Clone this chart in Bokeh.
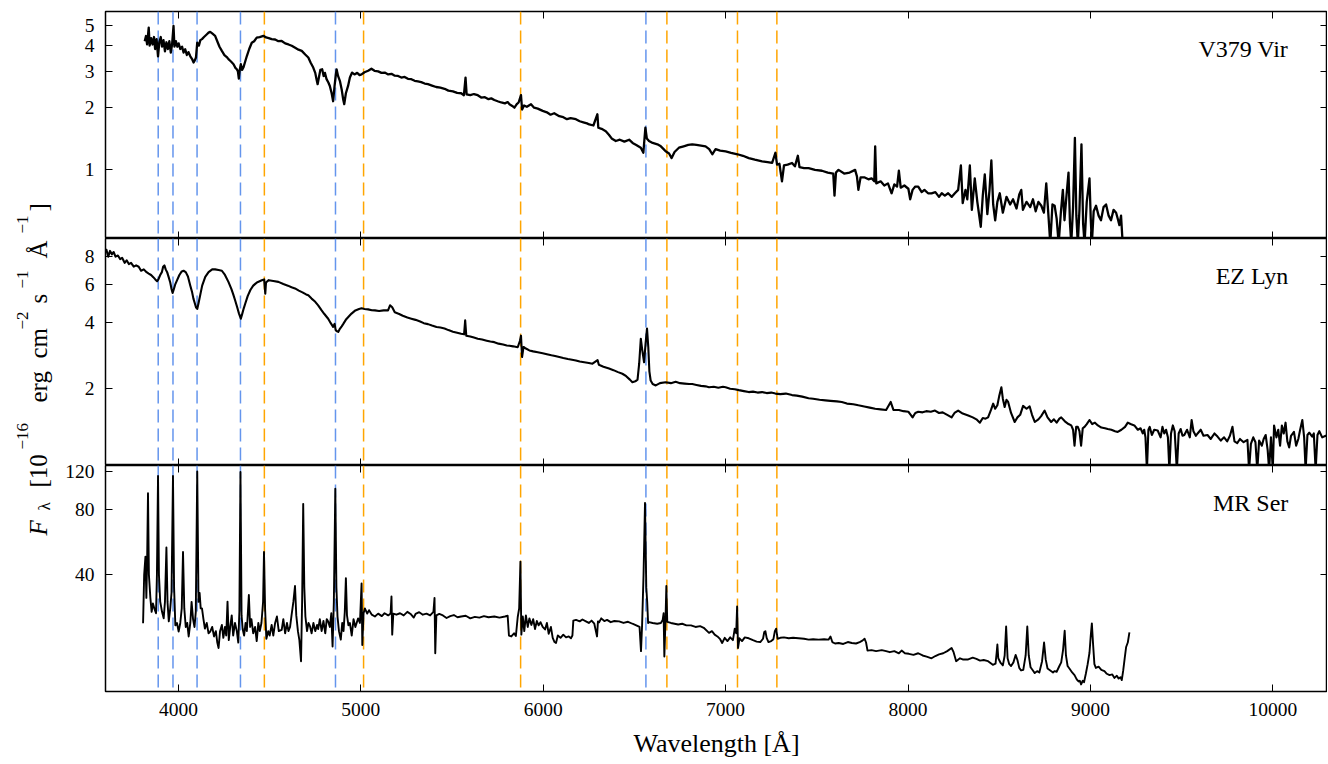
import numpy as np
from bokeh.plotting import figure
from bokeh.layouts import row, column
from bokeh.models import (Range1d, LinearAxis, LogAxis, FixedTicker, Span, Label,
                          CustomJSTickFormatter, PrintfTickFormatter)
from bokeh.embed import file_html
from bokeh.resources import INLINE

# ---------------- data ----------------
v379_wl = [
    3815, 3822, 3828, 3837, 3842, 3850, 3858, 3866, 3872, 3880,
    3888, 3895, 3903, 3910, 3918, 3926, 3934, 3942, 3950, 3958,
    3965, 3973, 3978, 3986, 3994, 4001, 4010, 4020, 4028, 4037,
    4046, 4055, 4065, 4074, 4083, 4090, 4096, 4103, 4112, 4120,
    4129, 4140, 4156, 4165, 4174, 4185, 4201, 4215, 4225, 4238,
    4252, 4265, 4274, 4288, 4302, 4312, 4320, 4326, 4331, 4336,
    4342, 4349, 4356, 4366, 4375, 4388, 4402, 4415, 4429, 4445,
    4466, 4480, 4495, 4511, 4530, 4548, 4566, 4585, 4603, 4621,
    4640, 4658, 4676, 4695, 4712, 4725, 4739, 4750, 4757, 4763,
    4770, 4778, 4788, 4796, 4803, 4812, 4822, 4830, 4840, 4848,
    4856, 4863, 4867, 4875, 4885, 4895, 4903, 4909, 4918, 4930,
    4940, 4952, 4965, 4980, 4993, 5004, 5020, 5040, 5058, 5075,
    5095, 5113, 5131, 5150, 5168, 5186, 5204, 5222, 5240, 5258,
    5277, 5295, 5313, 5331, 5350, 5368, 5390, 5413, 5436, 5459,
    5480, 5505, 5528, 5550, 5565, 5574, 5580, 5600, 5620, 5641,
    5660, 5680, 5700, 5715, 5732, 5750, 5770, 5790, 5805, 5815,
    5830, 5842, 5855, 5865, 5878, 5884, 5895, 5910, 5933, 5950,
    5970, 5997, 6020, 6040, 6060, 6088, 6110, 6130, 6150, 6179,
    6200, 6220, 6240, 6252, 6275, 6297, 6302, 6320, 6343, 6360,
    6375, 6398, 6420, 6445, 6471, 6490, 6510, 6535, 6549, 6560,
    6568, 6580, 6600, 6626, 6645, 6660, 6671, 6690, 6704, 6720,
    6744, 6770, 6795, 6817, 6840, 6865, 6890, 6910, 6927, 6945,
    6970, 7000, 7030, 7065, 7095, 7127, 7160, 7200, 7230, 7255,
    7273, 7282, 7295, 7309, 7320, 7340, 7364, 7380, 7396, 7405,
    7430, 7455, 7490, 7528, 7560, 7590, 7597, 7605, 7619, 7650,
    7680, 7710, 7720, 7728, 7740, 7760, 7783, 7800, 7815, 7820,
    7826, 7850, 7870, 7890, 7910, 7925, 7940, 7950, 7960, 7980,
    8002, 8012, 8025, 8040, 8056, 8075, 8090, 8110, 8129, 8150,
    8170, 8185, 8202, 8220, 8240, 8257, 8275, 8290, 8300, 8315,
    8325, 8339, 8350, 8366, 8380, 8399, 8410, 8421, 8435, 8447,
    8457, 8467, 8478, 8490, 8503, 8520, 8540, 8560, 8576, 8595,
    8610, 8621, 8630, 8650, 8670, 8685, 8700, 8715, 8731, 8745,
    8758, 8770, 8780, 8792, 8804, 8815, 8826, 8838, 8849, 8858,
    8866, 8880, 8888, 8895, 8905, 8915, 8923, 8931, 8940, 8951,
    8960, 8968, 8980, 8995, 9002, 9008, 9018, 9031, 9045, 9058,
    9072, 9086, 9100, 9113, 9127, 9141, 9150, 9159, 9168, 9177,
]
v379_flux = [
    4.20, 4.45, 4.05, 4.89, 4.00, 4.35, 4.05, 4.40, 3.85, 4.30,
    3.55, 4.15, 4.40, 3.95, 4.25, 3.75, 4.15, 3.85, 4.20, 3.70,
    4.05, 4.98, 3.95, 4.20, 3.95, 4.10, 3.85, 3.95, 3.70, 3.84,
    3.60, 3.72, 3.55, 3.45, 3.31, 3.40, 3.50, 4.13, 4.00, 4.25,
    4.30, 4.40, 4.54, 4.62, 4.66, 4.58, 4.46, 4.15, 3.95, 3.77,
    3.60, 3.52, 3.44, 3.35, 3.25, 3.12, 3.07, 3.00, 2.77, 3.05,
    3.25, 3.05, 3.13, 3.35, 3.56, 3.85, 4.13, 4.20, 4.37, 4.40,
    4.46, 4.38, 4.35, 4.30, 4.28, 4.20, 4.21, 4.10, 4.05, 3.99,
    3.90, 3.82, 3.77, 3.62, 3.50, 3.30, 3.13, 2.95, 2.75, 2.60,
    2.80, 3.05, 3.07, 2.85, 2.95, 2.75, 2.65, 2.55, 2.35, 2.15,
    2.55, 2.90, 3.07, 2.85, 2.70, 2.45, 2.20, 2.08, 2.35, 2.55,
    2.80, 2.96, 2.90, 2.95, 2.88, 2.90, 2.97, 3.02, 3.09, 3.02,
    3.00, 2.95, 2.96, 2.90, 2.92, 2.86, 2.85, 2.80, 2.82, 2.76,
    2.75, 2.70, 2.68, 2.66, 2.62, 2.60, 2.56, 2.52, 2.50, 2.47,
    2.42, 2.40, 2.36, 2.35, 2.30, 2.80, 2.32, 2.30, 2.33, 2.30,
    2.24, 2.25, 2.20, 2.22, 2.18, 2.15, 2.12, 2.10, 2.13, 2.08,
    2.04, 2.00, 2.08, 2.12, 2.30, 1.96, 2.05, 2.02, 2.08, 2.00,
    1.98, 1.93, 1.90, 1.85, 1.88, 1.82, 1.80, 1.76, 1.78, 1.76,
    1.72, 1.70, 1.68, 1.66, 1.64, 1.86, 1.60, 1.58, 1.54, 1.48,
    1.42, 1.38, 1.40, 1.37, 1.40, 1.35, 1.32, 1.28, 1.21, 1.60,
    1.42, 1.38, 1.35, 1.33, 1.30, 1.26, 1.23, 1.20, 1.14, 1.22,
    1.28, 1.30, 1.32, 1.33, 1.32, 1.31, 1.30, 1.26, 1.19, 1.26,
    1.24, 1.23, 1.21, 1.19, 1.17, 1.14, 1.12, 1.10, 1.09, 1.08,
    1.21, 1.06, 1.07, 0.88, 1.05, 1.06, 1.08, 1.04, 1.17, 1.03,
    1.02, 1.02, 1.00, 0.99, 0.97, 0.96, 0.75, 0.97, 1.00, 0.96,
    0.97, 1.00, 0.93, 0.80, 0.92, 0.92, 0.90, 0.91, 0.88, 1.30,
    0.86, 0.88, 0.84, 0.86, 0.77, 0.85, 0.83, 0.99, 0.82, 0.84,
    0.81, 0.72, 0.80, 0.83, 0.83, 0.78, 0.80, 0.77, 0.77, 0.78,
    0.74, 0.77, 0.75, 0.77, 0.74, 0.77, 0.80, 1.05, 0.69, 0.80,
    0.72, 1.05, 0.64, 0.91, 0.70, 0.53, 0.75, 0.95, 0.61, 0.80,
    1.11, 0.68, 0.57, 0.70, 0.77, 0.62, 0.74, 0.68, 0.72, 0.65,
    0.76, 0.80, 0.64, 0.70, 0.66, 0.72, 0.63, 0.70, 0.67, 0.62,
    0.86, 0.60, 0.44, 0.68, 0.67, 0.58, 0.44, 0.62, 0.80, 0.57,
    0.70, 0.97, 0.55, 0.44, 0.66, 1.43, 0.60, 0.44, 0.64, 1.33,
    0.55, 0.44, 0.70, 0.91, 0.58, 0.44, 0.63, 0.67, 0.60, 0.57,
    0.66, 0.68, 0.60, 0.57, 0.64, 0.62, 0.58, 0.54, 0.60, 0.44,
]

ezlyn_wl = [
    3590, 3605, 3615, 3625, 3635, 3645, 3655, 3668, 3680, 3691,
    3705, 3716, 3728, 3740, 3755, 3768, 3782, 3795, 3810, 3825,
    3837, 3850, 3862, 3873, 3883, 3890, 3900, 3909, 3916, 3923,
    3930, 3938, 3946, 3955, 3962, 3968, 3975, 3983, 3992, 4005,
    4018, 4028, 4040, 4052, 4065, 4075, 4082, 4088, 4096, 4103,
    4110, 4119, 4130, 4147, 4165, 4185, 4201, 4220, 4238, 4255,
    4274, 4290, 4300, 4311, 4322, 4332, 4342, 4350, 4358, 4366,
    4380, 4395, 4410, 4430, 4457, 4470, 4476, 4480, 4495, 4520,
    4548, 4575, 4600, 4620, 4639, 4660, 4680, 4700, 4712, 4730,
    4750, 4766, 4785, 4800, 4821, 4835, 4848, 4856, 4862, 4870,
    4876, 4885, 4895, 4903, 4920, 4935, 4949, 4970, 4990, 5004,
    5020, 5040, 5060, 5077, 5100, 5125, 5149, 5160, 5172, 5186,
    5210, 5230, 5255, 5277, 5300, 5325, 5345, 5368, 5390, 5415,
    5436, 5459, 5480, 5505, 5528, 5550, 5566, 5572, 5578, 5600,
    5620, 5641, 5665, 5690, 5710, 5732, 5755, 5780, 5800, 5815,
    5835, 5860, 5872, 5878, 5884, 5892, 5905, 5924, 5945, 5970,
    5997, 6020, 6045, 6065, 6088, 6110, 6135, 6158, 6179, 6200,
    6225, 6250, 6270, 6298, 6305, 6330, 6361, 6385, 6410, 6434,
    6455, 6475, 6489, 6505, 6517, 6526, 6535, 6543, 6553, 6561,
    6569, 6576, 6582, 6589, 6600, 6617, 6640, 6671, 6700, 6726,
    6750, 6775, 6800, 6817, 6840, 6865, 6890, 6909, 6935, 6960,
    6985, 7000, 7025, 7050, 7073, 7100, 7127, 7150, 7175, 7200,
    7225, 7250, 7273, 7300, 7330, 7364, 7390, 7420, 7455, 7480,
    7515, 7547, 7575, 7610, 7637, 7665, 7700, 7728, 7760, 7790,
    7820, 7850, 7880, 7905, 7920, 7950, 7975, 8002, 8015, 8025,
    8040, 8056, 8080, 8100, 8125, 8148, 8170, 8190, 8215, 8239,
    8255, 8275, 8300, 8330, 8355, 8375, 8394, 8410, 8425, 8439,
    8455, 8467, 8478, 8490, 8500, 8512, 8520, 8530, 8540, 8549,
    8565, 8585, 8600, 8615, 8631, 8650, 8667, 8680, 8695, 8715,
    8730, 8749, 8765, 8785, 8800, 8815, 8830, 8840, 8860, 8880,
    8895, 8905, 8913, 8922, 8931, 8940, 8949, 8958, 8968, 8980,
    8995, 9010, 9025, 9041, 9060, 9080, 9095, 9115, 9135, 9150,
    9170, 9190, 9205, 9220, 9241, 9260, 9275, 9287, 9295, 9302,
    9310, 9318, 9325, 9337, 9350, 9369, 9385, 9395, 9405, 9415,
    9425, 9433, 9442, 9452, 9462, 9474, 9484, 9495, 9505, 9515,
    9530, 9545, 9555, 9565, 9578, 9588, 9605, 9620, 9642, 9660,
    9680, 9697, 9715, 9733, 9750, 9765, 9779, 9790, 9805, 9820,
    9840, 9861, 9870, 9880, 9893, 9905, 9915, 9925, 9940, 9950,
    9961, 9972, 9980, 9990, 10000, 10007, 10020, 10030, 10040, 10050,
    10060, 10070, 10080, 10090, 10100, 10116, 10128, 10140, 10150, 10162,
    10172, 10180, 10190, 10200, 10216, 10225, 10235, 10245, 10255, 10271,
    10290, 10310,
]
ezlyn_flux = [
    8.2, 8.6, 8.0, 8.5, 8.2, 8.4, 8.0, 8.1, 7.8, 7.9,
    7.5, 7.7, 7.4, 7.5, 7.2, 7.3, 7.2, 6.9, 7.0, 6.8,
    6.7, 6.6, 6.45, 6.3, 6.18, 6.3, 6.6, 6.8, 7.2, 7.3,
    7.0, 6.8, 6.47, 6.1, 5.7, 5.47, 5.7, 6.0, 6.24, 6.6,
    6.85, 6.9, 6.8, 6.5, 5.9, 5.5, 5.15, 4.96, 4.7, 4.62,
    4.9, 5.33, 5.9, 6.47, 6.8, 7.0, 7.0, 6.95, 6.9, 6.6,
    6.14, 5.7, 5.4, 5.05, 4.7, 4.4, 4.17, 4.4, 4.65, 4.88,
    5.3, 5.65, 5.9, 6.1, 6.24, 6.3, 5.42, 6.1, 6.25, 6.2,
    6.14, 6.0, 5.9, 5.8, 5.73, 5.6, 5.5, 5.38, 5.33, 5.15,
    4.98, 4.80, 4.55, 4.38, 4.17, 3.98, 3.83, 3.95, 3.70, 3.65,
    3.63, 3.75, 3.85, 3.94, 4.15, 4.28, 4.40, 4.55, 4.62, 4.65,
    4.62, 4.60, 4.56, 4.55, 4.52, 4.55, 4.55, 4.80, 4.70, 4.46,
    4.38, 4.30, 4.22, 4.17, 4.12, 4.05, 3.98, 3.94, 3.88, 3.82,
    3.80, 3.76, 3.70, 3.64, 3.60, 3.56, 3.54, 4.10, 3.49, 3.46,
    3.42, 3.38, 3.35, 3.31, 3.28, 3.26, 3.21, 3.18, 3.15, 3.14,
    3.12, 3.09, 3.30, 3.49, 2.79, 3.10, 3.05, 2.99, 2.96, 2.93,
    2.90, 2.87, 2.84, 2.82, 2.79, 2.76, 2.73, 2.71, 2.69, 2.66,
    2.64, 2.62, 2.60, 2.70, 2.57, 2.52, 2.47, 2.43, 2.38, 2.34,
    2.28, 2.20, 2.14, 2.16, 2.20, 2.60, 3.38, 3.00, 2.64, 3.20,
    3.76, 3.10, 2.40, 2.18, 2.10, 2.07, 2.12, 2.14, 2.12, 2.15,
    2.12, 2.11, 2.10, 2.10, 2.08, 2.06, 2.05, 2.03, 2.04, 2.02,
    2.04, 2.03, 2.00, 1.99, 1.97, 1.95, 1.93, 1.94, 1.92, 1.93,
    1.91, 1.92, 1.90, 1.89, 1.90, 1.87, 1.86, 1.84, 1.81, 1.80,
    1.78, 1.77, 1.76, 1.75, 1.74, 1.71, 1.70, 1.68, 1.66, 1.64,
    1.62, 1.61, 1.60, 1.74, 1.60, 1.60, 1.58, 1.57, 1.52, 1.48,
    1.55, 1.57, 1.56, 1.58, 1.57, 1.59, 1.55, 1.56, 1.52, 1.48,
    1.55, 1.59, 1.54, 1.51, 1.48, 1.45, 1.40, 1.47, 1.46, 1.48,
    1.60, 1.71, 1.62, 1.68, 1.85, 2.03, 1.80, 1.65, 1.78, 1.74,
    1.55, 1.41, 1.48, 1.52, 1.67, 1.62, 1.66, 1.52, 1.41, 1.45,
    1.50, 1.59, 1.48, 1.41, 1.45, 1.40, 1.46, 1.48, 1.42, 1.38,
    1.36, 1.30, 1.10, 1.34, 1.34, 1.28, 1.10, 1.32, 1.34, 1.38,
    1.44, 1.38, 1.40, 1.36, 1.33, 1.32, 1.31, 1.30, 1.28, 1.27,
    1.30, 1.34, 1.40, 1.38, 1.36, 1.30, 1.32, 1.25, 1.30, 1.20,
    0.85, 1.30, 1.34, 1.23, 1.30, 1.29, 1.20, 1.34, 1.25, 1.30,
    1.20, 0.85, 1.25, 1.36, 1.28, 0.85, 1.25, 1.31, 1.22, 1.23,
    1.30, 1.20, 1.44, 1.28, 1.22, 1.25, 1.30, 1.22, 1.23, 1.18,
    1.25, 1.21, 1.16, 1.20, 1.15, 1.22, 1.34, 1.15, 1.13, 1.18,
    1.14, 1.17, 0.85, 1.12, 1.20, 1.14, 0.85, 1.16, 1.10, 1.18,
    1.23, 1.05, 0.85, 1.20, 0.85, 1.36, 1.20, 1.30, 1.10, 1.36,
    1.25, 1.40, 1.15, 1.08, 1.22, 1.27, 1.10, 1.18, 1.30, 1.44,
    1.20, 0.85, 1.23, 1.26, 1.21, 1.25, 0.85, 1.23, 1.28, 1.20,
    1.22, 1.20,
]

mrser_wl = [
    3806, 3812, 3819, 3824, 3828, 3833, 3838, 3846, 3853, 3860,
    3870, 3877, 3882, 3888, 3893, 3900, 3910, 3919, 3926, 3934,
    3940, 3947, 3955, 3962, 3970, 3976, 3983, 3992, 4001, 4010,
    4018, 4025, 4032, 4040, 4048, 4056, 4065, 4072, 4080, 4088,
    4095, 4103, 4110, 4116, 4122, 4129, 4137, 4145, 4155, 4165,
    4174, 4185, 4195, 4205, 4213, 4220, 4228, 4238, 4246, 4255,
    4262, 4269, 4276, 4284, 4292, 4300, 4310, 4320, 4328, 4334,
    4340, 4346, 4352, 4360, 4368, 4375, 4386, 4393, 4400, 4410,
    4420, 4429, 4438, 4446, 4455, 4464, 4469, 4475, 4482, 4492,
    4500, 4511, 4520, 4530, 4540, 4550, 4566, 4575, 4585, 4595,
    4603, 4612, 4620, 4630, 4639, 4646, 4655, 4663, 4672, 4678,
    4684, 4690, 4696, 4705, 4713, 4721, 4730, 4740, 4750, 4760,
    4766, 4775, 4785, 4795, 4805, 4813, 4821, 4830, 4838, 4845,
    4852, 4860, 4866, 4872, 4880, 4890, 4898, 4905, 4912, 4918,
    4924, 4932, 4940, 4950, 4960, 4970, 4985, 4995, 5004, 5008,
    5015, 5022, 5035, 5045, 5060, 5077, 5095, 5115, 5130, 5150,
    5163, 5168, 5172, 5178, 5195, 5215, 5235, 5255, 5275, 5290,
    5300, 5320, 5340, 5360, 5380, 5398, 5404, 5408, 5414, 5430,
    5450, 5470, 5490, 5510, 5530, 5550, 5575, 5600, 5625, 5650,
    5675, 5700, 5732, 5760, 5790, 5805, 5812, 5825, 5840, 5850,
    5860, 5868, 5875, 5880, 5888, 5896, 5905, 5915, 5924, 5935,
    5945, 5955, 5965, 5975, 5985, 5997, 6010, 6020, 6030, 6042,
    6052, 6062, 6070, 6080, 6095, 6110, 6125, 6140, 6152, 6160,
    6165, 6180, 6200, 6215, 6234, 6250, 6265, 6280, 6295, 6300,
    6307, 6318, 6335, 6350, 6370, 6390, 6416, 6440, 6465, 6489,
    6510, 6528, 6536, 6542, 6550, 6558, 6565, 6570, 6575, 6580,
    6600, 6625, 6645, 6655, 6660, 6664, 6670, 6675, 6680, 6700,
    6720, 6740, 6762, 6785, 6810, 6835, 6860, 6880, 6909, 6925,
    6940, 6955, 6970, 6981, 6995, 7010, 7025, 7040, 7050, 7058,
    7063, 7068, 7076, 7090, 7105, 7127, 7150, 7170, 7190, 7205,
    7212, 7218, 7225, 7235, 7250, 7262, 7270, 7277, 7285, 7300,
    7320, 7346, 7370, 7400, 7430, 7455, 7480, 7510, 7540, 7564,
    7575, 7585, 7600, 7620, 7645, 7670, 7692, 7715, 7735, 7750,
    7762, 7770, 7778, 7800, 7825, 7856, 7880, 7900, 7925, 7950,
    7965, 7983, 8005, 8030, 8056, 8080, 8102, 8129, 8150, 8170,
    8193, 8215, 8239, 8250, 8264, 8285, 8300, 8330, 8355, 8375,
    8395, 8415, 8439, 8465, 8480, 8486, 8490, 8495, 8508, 8520,
    8530, 8538, 8546, 8555, 8565, 8578, 8590, 8600, 8610, 8620,
    8632, 8645, 8654, 8662, 8672, 8682, 8695, 8708, 8720, 8735,
    8746, 8755, 8765, 8780, 8795, 8804, 8815, 8830, 8840, 8850,
    8859, 8866, 8875, 8885, 8900, 8913, 8925, 8935, 8942, 8949,
    8958, 8965, 8975, 8985, 8995, 9002, 9008, 9015, 9022, 9030,
    9045, 9060, 9077, 9090, 9105, 9120, 9132, 9145, 9155, 9165,
    9172, 9180, 9188, 9196, 9205, 9214,
]
mrser_flux = [
    23.9, 40, 48.5, 31.3, 45, 95.0, 40, 31.3, 27.0, 29.5,
    27.6, 26.6, 40, 114, 40, 30.1, 27.0, 25.2, 30, 53.4,
    30, 24.4, 28, 33, 114, 35, 23.4, 24, 21.9, 24,
    28, 50.9, 28, 23, 24, 20.8, 24, 30, 25, 23,
    27, 119.6, 30, 33, 28, 28.0, 25, 22.6, 24, 21.5,
    21.9, 23, 20.8, 22, 19.5, 18.4, 22, 23.5, 20.5, 23,
    21, 30.1, 20, 23, 26, 21, 24, 22, 19.5, 27,
    119, 26, 22.5, 21, 24, 22, 32.3, 23, 25, 21.5,
    23, 19.8, 24, 22, 24, 30, 50.9, 28, 20.3, 22,
    21, 23.5, 21, 24, 25.7, 22, 22.3, 25, 21.5, 24,
    22, 23, 26, 30, 35.5, 26, 22, 20, 16.0, 30,
    84.9, 35, 25.7, 22, 24, 23.2, 21.5, 24, 22, 23.5,
    22.5, 25, 22, 24.5, 21.5, 25, 24.4, 23, 26.6, 18.7,
    30, 99.6, 35, 25.7, 22, 20.1, 24, 22, 27, 38.6,
    26, 23.4, 24, 21, 25, 23, 25.2, 24, 36.5, 19.0,
    26.6, 28, 26.5, 27.5, 26.2, 25.7, 26.5, 25.8, 26.6, 26.0,
    26.5, 31.8, 21.2, 26.5, 26.2, 26.6, 26.0, 27.0, 26.3, 25.4,
    26.4, 26.9, 26.2, 26.5, 26.0, 27.0, 31.3, 17.4, 26.0, 26.4,
    26.0, 25.3, 25.8, 26.1, 25.5, 25.7, 25.9, 25.2, 25.6, 25.4,
    25.8, 25.5, 25.7, 25.4, 25.7, 25.9, 21.0, 20.8, 21.5, 20.9,
    25.5, 28, 46.0, 21.2, 25.7, 22, 26, 23, 25.2, 23.5,
    25, 22.5, 24.5, 23.4, 24.2, 23.0, 22.4, 24, 21.4, 23,
    20.5, 19.6, 19.4, 21, 20.5, 21.2, 20.6, 20.8, 20.4, 21.0,
    24.6, 24.8, 24.4, 24.9, 24.4, 24.0, 24.6, 23.8, 20.8, 24.4,
    24.2, 25.2, 24.5, 24.8, 24.2, 24.5, 24.4, 24.0, 24.3, 23.8,
    23.4, 23.0, 17.8, 23.4, 40, 85.8, 35, 30.0, 24.0, 24.2,
    24.0, 23.8, 24.0, 24.8, 26.6, 16.8, 24, 35.5, 24.3, 24.0,
    23.8, 23.6, 23.8, 23.4, 23.4, 23.0, 23.2, 22.8, 21.6, 22.0,
    21.2, 20.8, 20.2, 19.4, 20.5, 19.8, 20.6, 20.0, 22.6, 21.5,
    28.6, 18.4, 20.4, 19.8, 20.6, 20.4, 20.0, 19.7, 19.6, 20.3,
    21.8, 22.0, 20.5, 19.6, 19.8, 20.2, 22.0, 22.6, 20.3, 20.5,
    20.6, 20.4, 20.5, 20.4, 20.3, 20.1, 20.2, 20.1, 20.2, 20.1,
    20.8, 19.6, 19.3, 19.4, 19.2, 19.6, 19.4, 19.3, 19.6, 19.9,
    20.3, 19.5, 17.9, 18.0, 17.8, 18.0, 17.8, 17.6, 17.8, 17.4,
    17.9, 17.4, 17.3, 17.1, 17.4, 17.0, 16.8, 16.5, 16.9, 17.2,
    17.4, 17.8, 18.4, 17.6, 16.0, 16.5, 16.3, 16.3, 16.6, 16.4,
    16.1, 16.2, 16.0, 15.4, 15.6, 17.5, 19.1, 16.5, 15.7, 15.3,
    17.0, 23.1, 16.5, 15.5, 15.2, 15.8, 17.1, 16.2, 14.9, 14.5,
    14.6, 17.0, 23.1, 17.0, 15.0, 14.6, 14.1, 14.4, 14.2, 16.0,
    19.5, 16.3, 14.8, 14.5, 14.2, 14.4, 14.3, 15.2, 15.8, 18.0,
    22.1, 17.0, 15.2, 14.8, 14.2, 13.8, 13.2, 12.9, 13.0, 12.5,
    13.0, 12.8, 14.0, 15.5, 17.5, 21.0, 23.9, 19.0, 15.5, 14.9,
    15.1, 14.6, 14.4, 14.0, 13.8, 13.9, 13.4, 13.7, 13.3, 13.5,
    13.1, 14.5, 16.5, 18.6, 19.5, 21.7,
]

x_ticks = [4000, 5000, 6000, 7000, 8000, 9000, 10000]
v379_yticks = [1, 2, 3, 4, 5]
ezlyn_yticks = [2, 4, 6, 8]
mrser_yticks = [40, 80, 120]
balmer_lines = [3889, 3970, 4102, 4340, 4861, 6563]
helium_lines = [4471, 5015, 5876, 6678, 7065, 7281]
star_names = ["V379 Vir", "EZ Lyn", "MR Ser"]
x_label = "Wavelength [Å]"
# y label pieces: text and role (main text, subscript, superscript)
y_label_parts = [
    ("F", "main-italic"), ("λ", "sub"), ("[10", "main"), ("−16", "sup"),
    ("erg", "main"), ("cm", "main"), ("−2", "sup"), ("s", "main"),
    ("−1", "sup"), ("Å", "main"), ("−1", "sup"), ("]", "main"),
]

# ---------------- styling ----------------
FONT = "Liberation Serif"
BLUE = "#6495ED"
ORANGE = "#FFA500"
x_range = Range1d(3600, 10300)


def style_axis(ax, ticks, labels, fmt=None):
    ax.ticker = FixedTicker(ticks=ticks, minor_ticks=[])
    ax.axis_line_color = None
    ax.major_tick_in = 7
    ax.major_tick_out = 0
    ax.minor_tick_in = 0
    ax.minor_tick_out = 0
    ax.major_tick_line_color = "black"
    ax.major_tick_line_width = 1
    if labels:
        ax.major_label_text_font = FONT
        ax.major_label_text_font_size = "19.5px"
        ax.major_label_text_color = "black"
        ax.major_label_standoff = 11
        if fmt is not None:
            ax.formatter = fmt
    else:
        ax.formatter = CustomJSTickFormatter(code="return ''")
        ax.major_label_text_font_size = "0px"
        ax.major_label_standoff = 0


def make_panel(wl, flux, y_lo, y_hi, yticks, name, name_y, frame_h, top_border, last, lw):
    if last:
        # extra transparent strip on top so the "120" label is not clipped
        kw = dict(margin=(-top_border, 0, 0, 0), border_fill_color=None)
    else:
        kw = dict(border_fill_color="white")
    p = figure(frame_width=1222, frame_height=frame_h, x_range=x_range,
               y_range=Range1d(y_lo, y_hi), y_axis_type="log",
               output_backend="svg", toolbar_location=None,
               min_border_left=45, min_border_right=0,
               min_border_top=top_border, min_border_bottom=(74 if last else 0),
               background_fill_color="white",
               outline_line_color="black", outline_line_width=1.5, **kw)
    p.grid.visible = False

    style_axis(p.xaxis[0], x_ticks, last)
    if last:
        ax = p.xaxis[0]
        ax.axis_label = x_label
        ax.axis_label_text_font = FONT
        ax.axis_label_text_font_size = "26px"
        ax.axis_label_text_font_style = "normal"
        ax.axis_label_text_color = "black"
        ax.axis_label_standoff = 10
    style_axis(p.yaxis[0], yticks, True, PrintfTickFormatter(format="%d"))

    top_ax = LinearAxis()
    style_axis(top_ax, x_ticks, False)
    p.add_layout(top_ax, "above")
    right_ax = LogAxis()
    style_axis(right_ax, yticks, False)
    p.add_layout(right_ax, "right")

    for w in balmer_lines:
        p.add_layout(Span(location=w, dimension="height", line_color=BLUE,
                          line_width=1.5, line_dash="13 6", level="underlay"))
    for w in helium_lines:
        p.add_layout(Span(location=w, dimension="height", line_color=ORANGE,
                          line_width=1.5, line_dash="13 6", level="underlay"))

    p.line(wl, flux, line_color="black", line_width=lw, line_join="round")

    p.add_layout(Label(x=10085, y=name_y, text=name, text_align="right",
                       text_baseline="alphabetic", text_font=FONT,
                       text_font_size="24px", text_color="black"))
    return p


p1 = make_panel(v379_wl, v379_flux, 0.465, 5.85, v379_yticks, star_names[0], 3.85, 227, 11, False, 2.3)
p2 = make_panel(ezlyn_wl, ezlyn_flux, 0.893, 9.68, ezlyn_yticks, star_names[1], 6.53, 227, 0, False, 2.1)
p3 = make_panel(mrser_wl, mrser_flux, 11.6, 127.5, mrser_yticks, star_names[2], 85.5, 226, 12, True, 1.9)

# ---------------- shared y-axis label (rotated, built from pieces) ----------------
lab = figure(frame_width=60, frame_height=764, x_range=Range1d(0, 60), y_range=Range1d(0, 764),
             output_backend="svg", toolbar_location=None,
             x_axis_location=None, y_axis_location=None, min_border=0,
             outline_line_color=None, background_fill_color="white", border_fill_color="white")
lab.grid.visible = False

# positions along the rotated label (pixels from the bottom of the page)
part_starts = [229, 254, 277, 315, 362, 406, 435, 461, 476, 506, 531, 553]
kind_style = {
    "main": (37.5, "25px", "normal"),
    "main-italic": (37.5, "25px", "italic"),
    "sub": (43.5, "17px", "normal"),
    "sup": (22.0, "17px", "normal"),
}
for (txt, kind), ys in zip(y_label_parts, part_starts):
    bx, fs, st = kind_style[kind]
    lab.add_layout(Label(x=bx, y=ys, text=txt, angle=np.pi / 2, text_font=FONT,
                         text_font_size=fs, text_font_style=st, text_color="black",
                         text_align="left", text_baseline="alphabetic"))

layout = row(lab, column(p1, p2, p3, spacing=0), spacing=0)

with open("out.html", "w") as f:
    f.write(file_html(layout, INLINE))
